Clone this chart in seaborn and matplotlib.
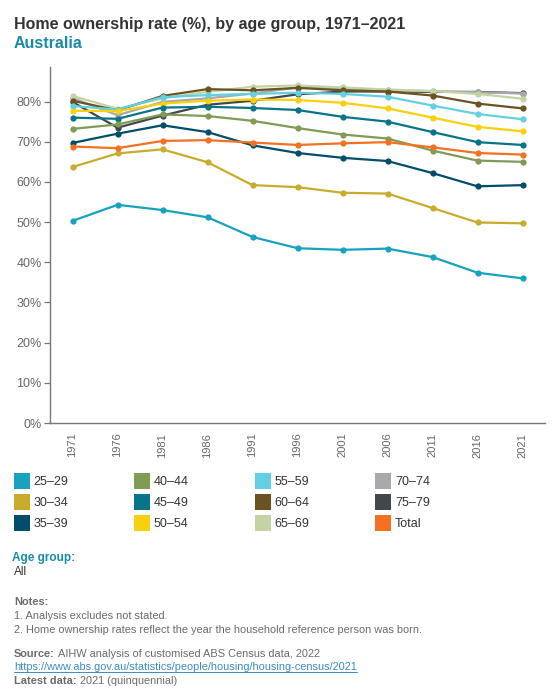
import seaborn as sns
import matplotlib.pyplot as plt
import pandas as pd
import numpy as np
from matplotlib.lines import Line2D

years = ['1971', '1976', '1981', '1986', '1991', '1996', '2001', '2006', '2011', '2016', '2021']

age_groups = ['25–29', '30–34', '35–39', '40–44', '45–49', '50–54',
              '55–59', '60–64', '65–69', '70–74', '75–79', 'Total']

rate_25_29 = [50.3, 54.3, 53.0, 51.2, 46.3, 43.5, 43.1, 43.4, 41.3, 37.4, 36.0]
rate_30_34 = [63.7, 67.1, 68.1, 64.9, 59.2, 58.7, 57.3, 57.1, 53.5, 49.9, 49.7]
rate_35_39 = [69.7, 72.0, 74.1, 72.4, 69.1, 67.2, 66.0, 65.2, 62.2, 58.9, 59.2]
rate_40_44 = [73.2, 74.3, 76.8, 76.4, 75.2, 73.4, 71.8, 70.8, 67.8, 65.3, 65.0]
rate_45_49 = [76.0, 75.7, 78.5, 78.7, 78.4, 77.9, 76.2, 75.0, 72.4, 69.9, 69.2]
rate_50_54 = [77.7, 77.6, 79.5, 80.2, 80.5, 80.4, 79.7, 78.3, 76.0, 73.7, 72.6]
rate_55_59 = [78.9, 78.0, 81.1, 81.6, 81.9, 82.2, 81.9, 81.2, 79.0, 76.9, 75.6]
rate_60_64 = [80.2, 77.8, 81.4, 83.1, 82.8, 83.4, 82.8, 82.5, 81.5, 79.5, 78.3]
rate_65_69 = [81.4, 78.2, 80.8, 82.4, 83.7, 84.0, 83.5, 83.0, 82.6, 81.9, 80.7]
rate_70_74 = [80.9, 76.6, 79.9, 80.8, 82.0, 83.5, 83.2, 82.8, 82.6, 82.3, 82.0]
rate_75_79 = [79.9, 73.5, 76.5, 79.2, 80.2, 81.8, 82.5, 82.5, 82.4, 82.4, 82.1]
rate_total = [68.8, 68.4, 70.2, 70.4, 69.8, 69.2, 69.6, 69.9, 68.6, 67.2, 66.8]

colors = ['#17a2bd', '#c9ab2e', '#004e6a', '#809b55', '#087489', '#f8d00d',
          '#62d0e0', '#6b5321', '#c3d3a2', '#a7a9ac', '#43474b', '#f37121']

series = [rate_25_29, rate_30_34, rate_35_39, rate_40_44, rate_45_49, rate_50_54,
          rate_55_59, rate_60_64, rate_65_69, rate_70_74, rate_75_79, rate_total]

rows = []
for grp, vals in zip(age_groups, series):
    for i, v in enumerate(vals):
        rows.append((grp, i, v))
df = pd.DataFrame(rows, columns=['Age group', 'Pos', 'Rate'])

sns.set_theme(style='white')
plt.rcParams['font.family'] = ['Liberation Sans', 'DejaVu Sans']

fig = plt.figure(figsize=(5.6, 7.0), dpi=100)
ax = fig.add_axes([50 / 560, 1 - 423 / 700, 495 / 560, 356 / 700])

# draw age groups in reverse so the lower age groups / total sit on top
draw_order = age_groups[::-1]
sns.lineplot(data=df, x='Pos', y='Rate', hue='Age group', hue_order=draw_order,
             palette=dict(zip(age_groups, colors)), marker='o', markersize=4.5,
             markeredgewidth=0, linewidth=1.6, legend=False, ax=ax)
# put total back on top
ax.lines[0].set_zorder(3)

ax.set_xlim(-0.5, 10.5)
ax.set_ylim(0, 88.6)
ax.set_xticks(range(len(years)))
ax.set_xticklabels(years, rotation=90, fontsize=8, color='#666666')
ax.set_xticks(np.arange(-0.5, 11, 1), minor=True)
ax.tick_params(axis='x', which='major', length=0, pad=7)
ax.tick_params(axis='x', which='minor', length=5, width=0.9, color='#777777', direction='out')
ax.set_yticks(range(0, 90, 10))
ax.set_yticklabels([f'{t}%' for t in range(0, 90, 10)], fontsize=9, color='#666666')
ax.tick_params(axis='y', length=4, width=0.9, color='#777777', direction='out', pad=2, left=True)
ax.set_xlabel('')
ax.set_ylabel('')
ax.grid(False)
for s in ['top', 'right']:
    ax.spines[s].set_visible(False)
for s in ['left', 'bottom']:
    ax.spines[s].set_color('#777777')
    ax.spines[s].set_linewidth(1.0)

# legend
handles = [Line2D([0], [0], marker='s', linestyle='', markersize=11,
                  markerfacecolor=c, markeredgewidth=0) for c in colors]
fig.legend(handles, age_groups, loc='upper left', bbox_to_anchor=(4 / 560, 1 - 465 / 700),
           ncol=4, frameon=False, fontsize=9, handlelength=1.0, handletextpad=0.45,
           columnspacing=5.4, labelspacing=0.72, labelcolor='#333333')

# titles
fig.text(14 / 560, 1 - 25 / 700, 'Home ownership rate (%), by age group, 1971–2021',
         fontsize=11.5, fontweight='bold', color='#333333', va='center')
fig.text(14 / 560, 1 - 44 / 700, 'Australia', fontsize=11.5, fontweight='bold',
         color='#1a8aa8', va='center')

# filters
fig.text(12 / 560, 1 - 558 / 700, 'Age group:', fontsize=8.5, fontweight='bold',
         color='#1a8aa8', va='center')
fig.text(14 / 560, 1 - 572 / 700, 'All', fontsize=8.5, color='#333333', va='center')

# notes
note_c = '#6b6b6b'
fs = 7.9
renderer = fig.canvas.get_renderer()


def label_value(y, label, value, color=note_c):
    t = fig.text(14 / 560, 1 - y / 700, label, fontsize=fs, fontweight='bold', color=color, va='center')
    w = t.get_window_extent(renderer).width
    fig.text((14 + w + 3) / 560, 1 - y / 700, value, fontsize=fs, color=color, va='center')


fig.text(14 / 560, 1 - 602 / 700, 'Notes:', fontsize=fs, fontweight='bold', color=note_c, va='center')
fig.text(14 / 560, 1 - 616 / 700, '1. Analysis excludes not stated.', fontsize=fs, color=note_c, va='center')
fig.text(14 / 560, 1 - 630 / 700,
         '2. Home ownership rates reflect the year the household reference person was born.',
         fontsize=fs, color=note_c, va='center')
label_value(654, 'Source:', 'AIHW analysis of customised ABS Census data, 2022')
url = 'https://www.abs.gov.au/statistics/people/housing/housing-census/2021'
u = fig.text(14 / 560, 1 - 667 / 700, url, fontsize=fs, color='#3a8ec1', va='center')
uw = u.get_window_extent(renderer).width
fig.add_artist(Line2D([14 / 560, (14 + uw) / 560], [1 - 671.5 / 700, 1 - 671.5 / 700],
                      color='#3a8ec1', linewidth=0.7))
label_value(681, 'Latest data:', '2021 (quinquennial)')

fig.savefig('out.png', dpi=100)
